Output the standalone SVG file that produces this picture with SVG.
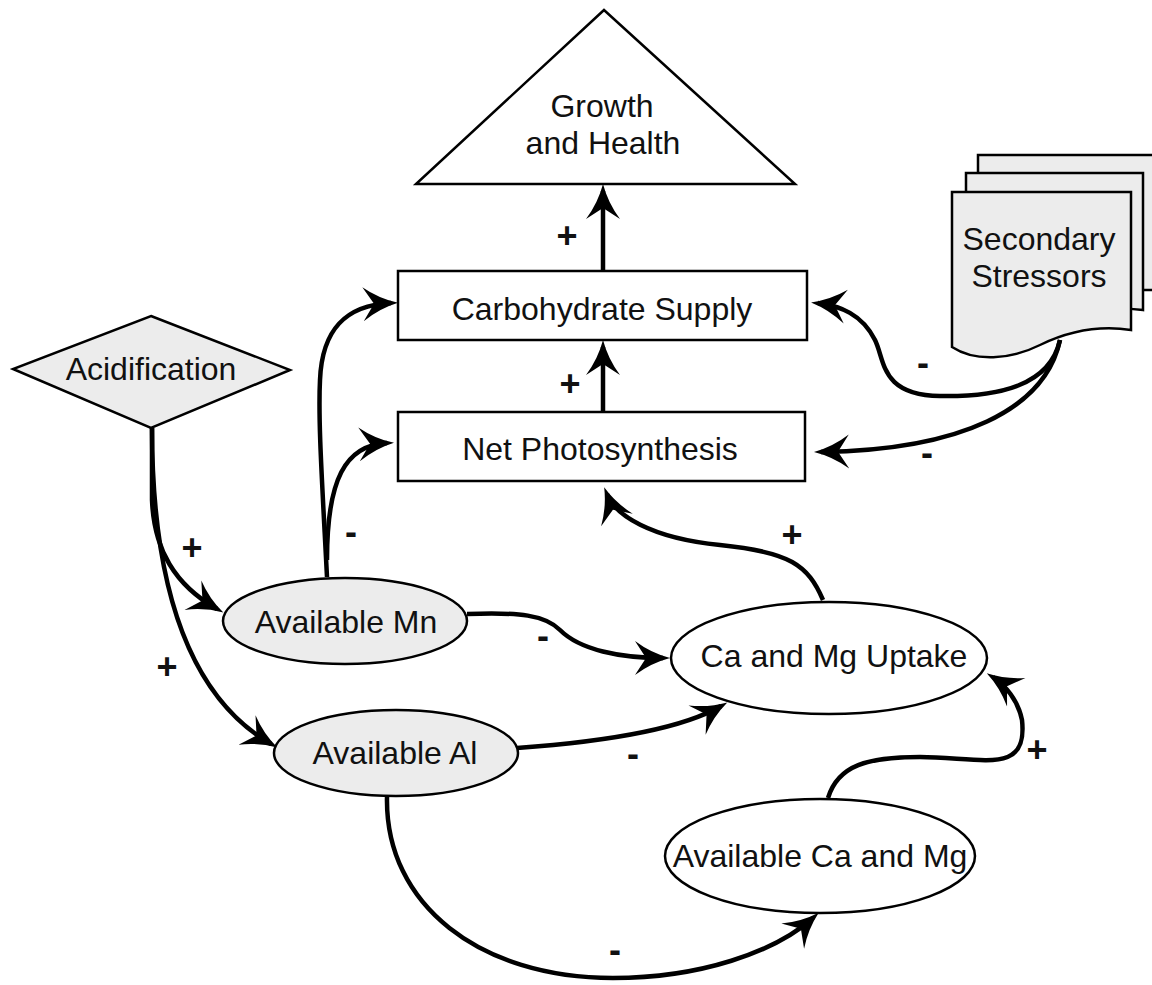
<svg xmlns="http://www.w3.org/2000/svg" xmlns:xlink="http://www.w3.org/1999/xlink" width="1152" height="985" viewBox="0 0 1152 985">
<style>
.n{stroke:#000;stroke-width:2.5}
.g{fill:#ececec}
.w{fill:#fff}
.t{font-family:"Liberation Sans",Arial,sans-serif;font-size:32px;fill:#111;text-anchor:middle}
.c{fill:none;stroke:#000;stroke-width:4.5}
.s{font-family:"Liberation Sans",Arial,sans-serif;font-size:36px;font-weight:bold;fill:#111;text-anchor:middle}
.a{fill:#000;stroke:none}
</style>
<defs>
<path id="ah" d="M5,0 Q-14,-5 -30,-17 L-19,0 L-30,17 Q-14,5 5,0 Z"/>
</defs>
<rect width="1152" height="985" fill="#fff"/>
<g id="connectors">
<path class="c" d="M603,412 L603,347"/>
<use class="a" href="#ah" xlink:href="#ah" transform="translate(603,345) rotate(-90)"/>
<path class="c" d="M603,270 L603,191"/>
<use class="a" href="#ah" xlink:href="#ah" transform="translate(603,189) rotate(-90)"/>
<path class="c" d="M152,428 L152,500 C154,550 175,585 217,609"/>
<use class="a" href="#ah" xlink:href="#ah" transform="translate(219,610) rotate(29.6)"/>
<path class="c" d="M152,428 C152,600 195,700 271,744"/>
<use class="a" href="#ah" xlink:href="#ah" transform="translate(273,745) rotate(30)"/>
<path class="c" d="M327,577 C322,480 318,420 320,380 C322,330 345,305 391,303"/>
<use class="a" href="#ah" xlink:href="#ah" transform="translate(393,303) rotate(-2.4)"/>
<path class="c" d="M327,560 C327,480 345,445 387,443"/>
<use class="a" href="#ah" xlink:href="#ah" transform="translate(389,443) rotate(-2.6)"/>
<path class="c" d="M1060,340 C1050,385 1000,397 940,396 C880,395 885,360 875,340 C862,314 840,306 818,303"/>
<use class="a" href="#ah" xlink:href="#ah" transform="translate(816,303) rotate(187)"/>
<path class="c" d="M1060,340 C1045,410 960,450 821,452"/>
<use class="a" href="#ah" xlink:href="#ah" transform="translate(819,452) rotate(179.2)"/>
<path class="c" d="M823,600 C808,565 790,552 720,545 C650,538 615,515 607,494"/>
<use class="a" href="#ah" xlink:href="#ah" transform="translate(606,492) rotate(-111.4)"/>
<path class="c" d="M467,614 C520,612 545,615 560,630 C580,650 620,658 663,658"/>
<use class="a" href="#ah" xlink:href="#ah" transform="translate(665,658) rotate(0)"/>
<path class="c" d="M517,748 C600,742 680,730 721,706"/>
<use class="a" href="#ah" xlink:href="#ah" transform="translate(723,705) rotate(-30.2)"/>
<path class="c" d="M387,797 C385,905 480,978 613,978 C700,978 775,952 813,918"/>
<use class="a" href="#ah" xlink:href="#ah" transform="translate(815,916) rotate(-42)"/>
<path class="c" d="M828,798 C838,765 868,757 920,757 C985,758 1028,775 1022,720 C1018,700 1005,685 993,677"/>
<use class="a" href="#ah" xlink:href="#ah" transform="translate(991,676) rotate(-147.3)"/>
<text class="s" x="567" y="248">+</text>
<text class="s" x="570" y="396">+</text>
<text class="s" x="192" y="560">+</text>
<text class="s" x="167" y="679">+</text>
<text class="s" x="351" y="544">-</text>
<text class="s" x="923" y="375">-</text>
<text class="s" x="927" y="465">-</text>
<text class="s" x="792" y="547">+</text>
<text class="s" x="543" y="648">-</text>
<text class="s" x="633" y="766">-</text>
<text class="s" x="615" y="962">-</text>
<text class="s" x="1037" y="762">+</text>
</g>
<g id="growth">
<polygon class="n w" points="604,10 416,184 795,184"/>
<text class="t" x="602" y="117">Growth</text>
<text class="t" x="603" y="154">and Health</text>
</g>
<g id="carb">
<rect class="n w" x="398" y="271" width="409" height="69"/>
<text class="t" x="602" y="320">Carbohydrate Supply</text>
</g>
<g id="netphoto">
<rect class="n w" x="398" y="412" width="407" height="69"/>
<text class="t" x="600" y="460">Net Photosynthesis</text>
</g>
<g id="acid">
<polygon class="n g" points="151,316 290,370 151,428 13,369"/>
<text class="t" x="151" y="380">Acidification</text>
</g>
<g id="stressors">
<path class="n g" d="M978,155 L1165,155 L1165,290 L978,290 Z"/>
<path class="n g" d="M966,173 L1143,173 L1143,310 C1110,306 1080,310 1050,318 L966,318 Z"/>
<path class="n g" d="M952,192 L1131,192 L1131,330 C1105,326 1075,328 1040,345 C1010,360 975,362 952,347 Z"/>
<text class="t" x="1039" y="250">Secondary</text>
<text class="t" x="1039" y="287">Stressors</text>
</g>
<g id="mn">
<ellipse class="n g" cx="345" cy="621" rx="122" ry="43"/>
<text class="t" x="346" y="633">Available Mn</text>
</g>
<g id="al">
<ellipse class="n g" cx="396" cy="753" rx="122" ry="43"/>
<text class="t" x="395" y="764">Available Al</text>
</g>
<g id="uptake">
<ellipse class="n w" cx="829" cy="658" rx="158" ry="56"/>
<text class="t" x="834" y="667">Ca and Mg Uptake</text>
</g>
<g id="camg">
<ellipse class="n w" cx="820" cy="856" rx="155" ry="57"/>
<text class="t" x="820" y="867">Available Ca and Mg</text>
</g>
</svg>
